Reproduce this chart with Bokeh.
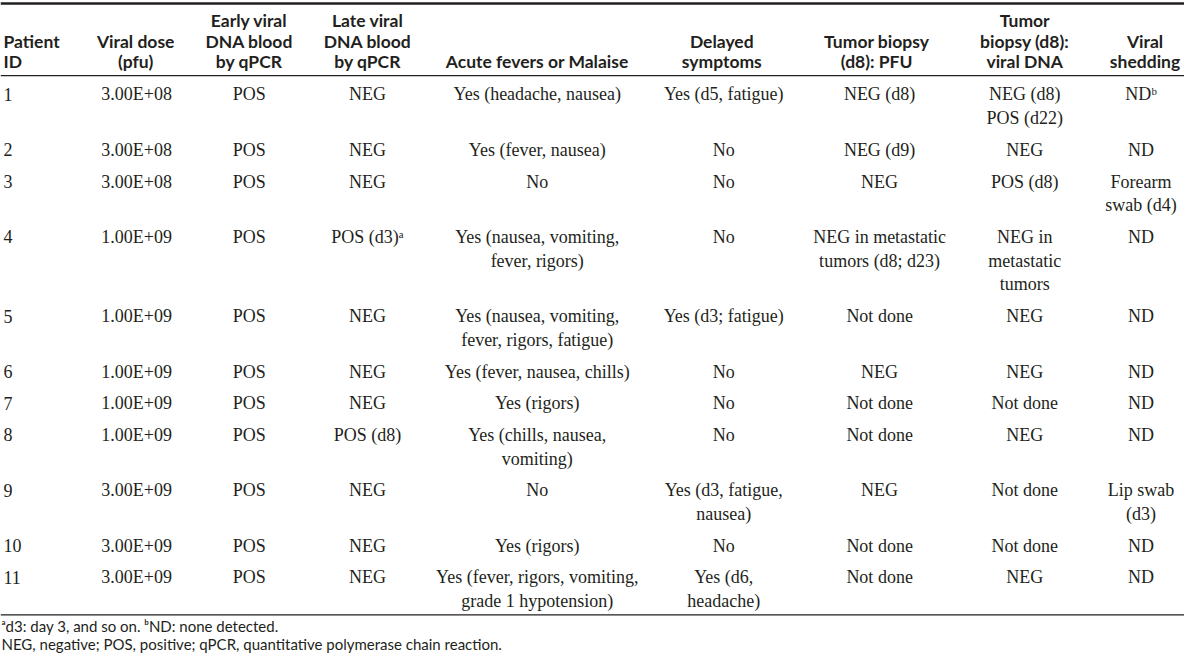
from bokeh.plotting import figure
from bokeh.models import ColumnDataSource, Range1d, Span
from bokeh.core.properties import value
from bokeh.embed import file_html
from bokeh.resources import INLINE

# ---------------- data ----------------
headers = ["Patient\nID", "Viral dose\n(pfu)", "Early viral\nDNA blood\nby qPCR",
           "Late viral\nDNA blood\nby qPCR", "Acute fevers or Malaise", "Delayed\nsymptoms",
           "Tumor biopsy\n(d8): PFU", "Tumor\nbiopsy (d8):\nviral DNA", "Viral\nshedding"]

patient_id = ["1", "2", "3", "4", "5", "6", "7", "8", "9", "10", "11"]
viral_dose = ["3.00E+08", "3.00E+08", "3.00E+08", "1.00E+09", "1.00E+09", "1.00E+09",
              "1.00E+09", "1.00E+09", "3.00E+09", "3.00E+09", "3.00E+09"]
early_dna = ["POS", "POS", "POS", "POS", "POS", "POS", "POS", "POS", "POS", "POS", "POS"]
late_dna = ["NEG", "NEG", "NEG", "POS (d3)\u1d43", "NEG", "NEG", "NEG", "POS (d8)", "NEG", "NEG", "NEG"]
acute = ["Yes (headache, nausea)", "Yes (fever, nausea)", "No",
         "Yes (nausea, vomiting,\nfever, rigors)", "Yes (nausea, vomiting,\nfever, rigors, fatigue)",
         "Yes (fever, nausea, chills)", "Yes (rigors)", "Yes (chills, nausea,\nvomiting)", "No",
         "Yes (rigors)", "Yes (fever, rigors, vomiting,\ngrade 1 hypotension)"]
delayed = ["Yes (d5, fatigue)", "No", "No", "No", "Yes (d3; fatigue)", "No", "No", "No",
           "Yes (d3, fatigue,\nnausea)", "No", "Yes (d6,\nheadache)"]
biopsy_pfu = ["NEG (d8)", "NEG (d9)", "NEG", "NEG in metastatic\ntumors (d8; d23)", "Not done",
              "NEG", "Not done", "Not done", "NEG", "Not done", "Not done"]
biopsy_dna = ["NEG (d8)\nPOS (d22)", "NEG", "POS (d8)", "NEG in\nmetastatic\ntumors", "NEG", "NEG",
              "Not done", "NEG", "Not done", "Not done", "NEG"]
shedding = ["ND\u1d47", "ND", "Forearm\nswab (d4)", "ND", "ND", "ND", "ND", "ND", "Lip swab\n(d3)",
            "ND", "ND"]
footnotes = ["\u1d43d3: day 3, and so on. \u1d47ND: none detected.",
             "NEG, negative; POS, positive; qPCR, quantitative polymerase chain reaction."]

columns = [patient_id, viral_dose, early_dna, late_dna, acute, delayed, biopsy_pfu, biopsy_dna, shedding]

# ---------------- layout ----------------
INK = "#231f20"
col_x = [3, 138, 252, 372, 544, 733, 891, 1038, 1156]
head_x = [3, 137, 252, 372, 544, 731, 888, 1038, 1160]
HEAD_LAST = 62
HEAD_STEP = 21
ROW_TOP = 95
LINE = 24
GAP = 8
FOOT_Y = [632, 650]

p = figure(width=1184, height=653, x_range=Range1d(0, 1200), y_range=Range1d(660, 0),
           output_backend="svg", toolbar_location=None, min_border=0,
           x_axis_location=None, y_axis_location=None)
p.grid.visible = False
p.outline_line_color = None

# header
hl = {"x": [], "y": [], "t": []}
hc = {"x": [], "y": [], "t": []}
for j, h in enumerate(headers):
    lines = h.split("\n")
    n = len(lines)
    for k, ln in enumerate(lines):
        d = hl if j == 0 else hc
        d["x"].append(head_x[j])
        d["y"].append(HEAD_LAST - (n - 1 - k) * HEAD_STEP)
        d["t"].append(ln)
for d, al in ((hl, "left"), (hc, "center")):
    p.text(x="x", y="y", text="t", source=ColumnDataSource(d), text_font=value("Lato"),
           text_font_style="bold", text_font_size="17.5px", text_color=INK,
           text_align=al, text_baseline="middle")

# body
bl = {"x": [], "y": [], "t": []}
bc = {"x": [], "y": [], "t": []}
y0 = ROW_TOP
for i in range(len(patient_id)):
    nmax = max(len(c[i].split("\n")) for c in columns)
    for j, c in enumerate(columns):
        for k, ln in enumerate(c[i].split("\n")):
            d = bl if j == 0 else bc
            d["x"].append(col_x[j])
            d["y"].append(y0 + k * LINE)
            d["t"].append(ln)
    y0 += nmax * LINE + GAP
for d, al in ((bl, "left"), (bc, "center")):
    p.text(x="x", y="y", text="t", source=ColumnDataSource(d), text_font=value("Liberation Serif"),
           text_font_size="18px", text_color=INK, text_align=al, text_baseline="middle")

# rules
p.add_layout(Span(location=3, dimension="width", line_color=INK, line_width=2.5))
p.add_layout(Span(location=76, dimension="width", line_color=INK, line_width=1.3))
p.add_layout(Span(location=621, dimension="width", line_color=INK, line_width=1.3))

# footnotes
p.text(x=[1, 1], y=FOOT_Y, text=footnotes, text_font=value("Lato"), text_font_size="15px",
       text_color=INK, text_align="left", text_baseline="middle")

open("out.html", "w").write(file_html(p, INLINE))
